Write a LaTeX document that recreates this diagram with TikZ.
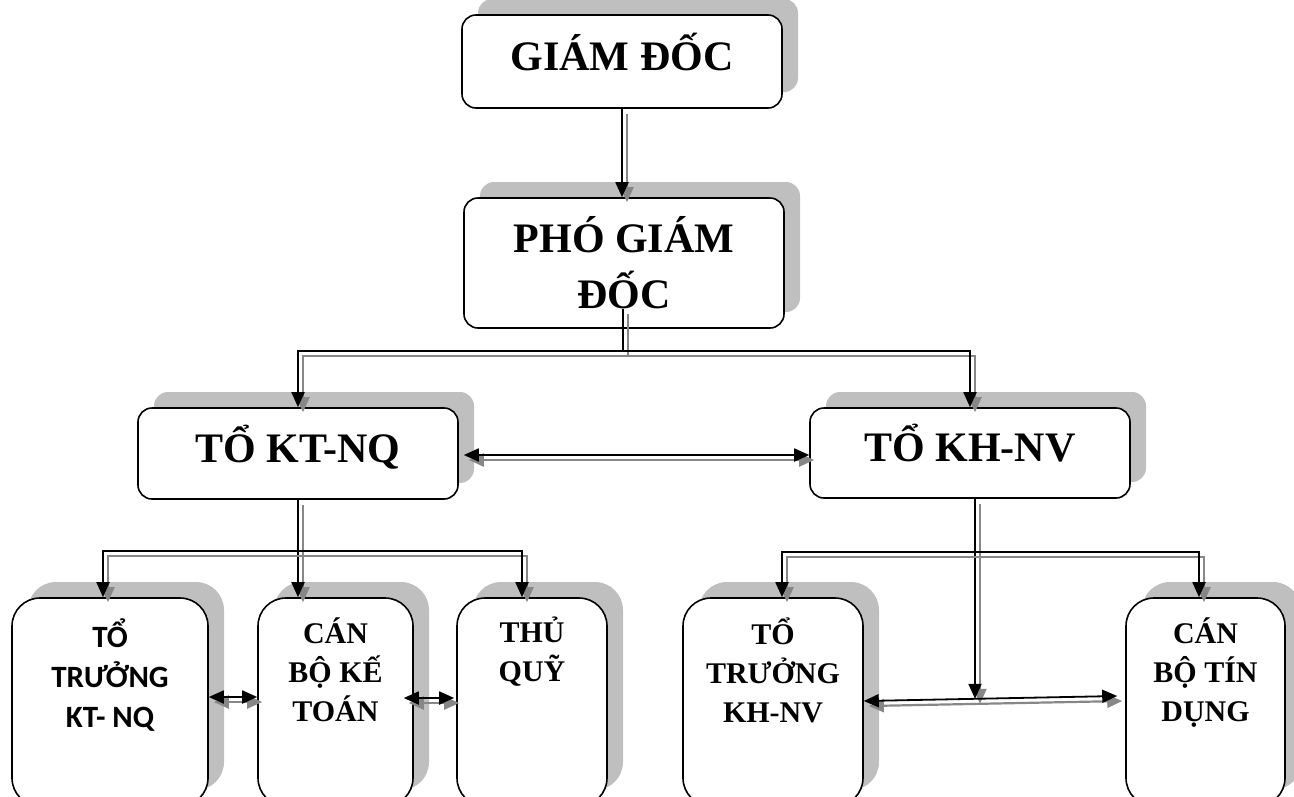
\documentclass[tikz,border=0pt]{standalone}
\usepackage{fontspec}
\setmainfont{Liberation Serif}
\newfontfamily\calibrifont{Carlito}
\usetikzlibrary{arrows.meta,shadows,positioning}
\definecolor{shadowgray}{RGB}{191,191,191}
\definecolor{linkgray}{RGB}{135,135,135}

\begin{document}
\begin{tikzpicture}[x=1pt, y=-1pt,
  >={Triangle[length=15pt,width=13pt]},
  box/.style={draw, line width=1.6pt, fill=white, rounded corners=14pt, align=center, inner sep=0pt,
    drop shadow={shadow xshift=16pt, shadow yshift=16pt, fill=shadowgray, opacity=1},
    font=\bfseries\fontsize{42}{56}\selectfont},
  onerow/.style={text height=30pt, text depth=13pt},
  tallbox/.style={draw, line width=1.6pt, fill=white, rounded corners=28pt, minimum height=208,
    drop shadow={shadow xshift=16pt, shadow yshift=16pt, fill=shadowgray, opacity=1}},
  lowtext/.style={inner sep=0pt, align=center, font=\bfseries\fontsize{30}{39}\selectfont},
  link/.style={line width=1.8pt, ->, preaction={draw=linkgray, line width=2.2pt, transform canvas={shift={(5pt,-5pt)}}}}]
  \useasboundingbox (0,0) rectangle (1294,796);
  \clip (0,0) rectangle (1294,796);

  \node (gd) at (622,61.5) [box, onerow, minimum width=320, minimum height=93] {GIÁM ĐỐC};
  \node (pgd) at (624,263) [box, minimum width=320, minimum height=130] {PHÓ GIÁM\\ĐỐC};
  \node (ktnq) at (298,453.5) [box, onerow, minimum width=320, minimum height=91] {TỔ KT-NQ};
  \node (khnv) at (970,453) [box, onerow, minimum width=320, minimum height=90] {TỔ KH-NV};

  \node (ttkt) at (110,702) [tallbox, minimum width=196] {};
  \node (cbkt) at (335.5,702) [tallbox, minimum width=155] {};
  \node (thuquy) at (532,702) [tallbox, minimum width=150] {};
  \node (ttkh) at (773,702) [tallbox, minimum width=180] {};
  \node (cbtd) at (1205.5,702) [tallbox, minimum width=159] {};

  \node (ttkt-t) [lowtext, font=\calibrifont\bfseries\fontsize{31}{40}\selectfont, below=21pt of ttkt.north] {TỔ\\TRƯỞNG\\KT- NQ};
  \node (cbkt-t) [lowtext, below=20pt of cbkt.north] {CÁN\\BỘ KẾ\\TOÁN};
  \node (thuquy-t) [lowtext, below=20pt of thuquy.north] {THỦ\\QUỸ};
  \node (ttkh-t) [lowtext, below=20pt of ttkh.north] {TỔ\\TRƯỞNG\\KH-NV};
  \node (cbtd-t) [lowtext, below=20pt of cbtd.north] {CÁN\\BỘ TÍN\\DỤNG};

  \coordinate (j1) at (623,351);
  \coordinate (j2) at (298,551);
  \coordinate (j3) at (975,552);

  \draw[link] (gd.south) -- (gd.south |- pgd.north);
  \draw[link] ([xshift=-1pt,yshift=20pt]pgd.south) -- (j1) -| (ktnq.north);
  \draw[link] (j1) -| (khnv.north);
  \draw[link,<->] ([xshift=5pt,yshift=-1.5pt]ktnq.east) -- ([yshift=-2pt]khnv.west);
  \draw[link] (ktnq.south) -- (ktnq.south |- cbkt.north);
  \draw[link,<->] ([xshift=-7pt]ttkt.north) |- (j2) -| ([xshift=-10pt]thuquy.north);
  \draw[link] ([xshift=5pt]khnv.south) -- ++(0,200);
  \draw[link,<->] ([xshift=9pt]ttkh.north) |- (j3) -| ([xshift=-6.5pt]cbtd.north);
  \draw[link,<->] ([yshift=5pt]ttkt.east) -- ([yshift=5pt]cbkt.west);
  \draw[link,<->] ([xshift=-10pt,yshift=4pt]cbkt.east) -- ([xshift=-2pt,yshift=4pt]thuquy.west);
  \draw[link,<->] ([yshift=1pt]ttkh.east) -- ([xshift=-8pt,yshift=6pt]cbtd.west);
\end{tikzpicture}
\end{document}
